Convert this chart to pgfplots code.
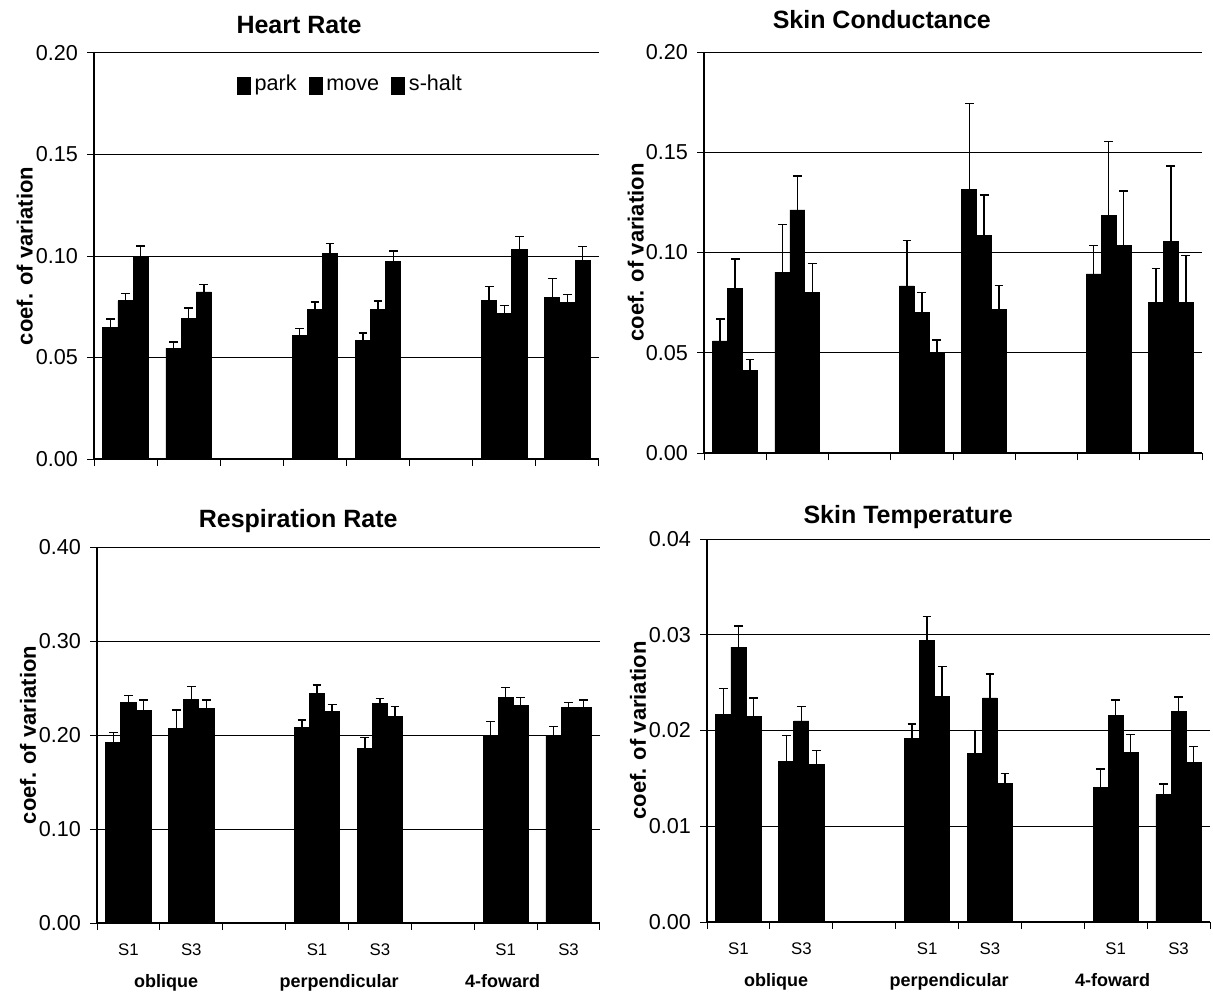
\documentclass[border=0pt]{standalone}
\usepackage{fontspec}
\setmainfont{Liberation Sans}
\usepackage{pgfplots}
\usepackage{pgfplotstable}
\pgfplotsset{compat=1.18}

% x: 1,2 = oblique S1,S3; 4,5 = perpendicular; 7,8 = 4-foward
\pgfplotstableread{
x park pe move me halt he
1 0.0650 0.0040 0.0779 0.0037 0.0992 0.0058
2 0.0546 0.0030 0.0693 0.0050 0.0823 0.0038
4 0.0607 0.0036 0.0738 0.0036 0.1011 0.0051
5 0.0585 0.0035 0.0738 0.0041 0.0975 0.0050
7 0.0782 0.0067 0.0718 0.0039 0.1033 0.0062
8 0.0798 0.0091 0.0770 0.0040 0.0980 0.0066
}\hrdata
\pgfplotstableread{
x park pe move me halt he
1 0.0559 0.0110 0.0822 0.0145 0.0412 0.0053
2 0.0901 0.0239 0.1212 0.0170 0.0800 0.0146
4 0.0833 0.0226 0.0700 0.0102 0.0503 0.0061
5 0.1315 0.0428 0.1087 0.0199 0.0717 0.0118
7 0.0893 0.0141 0.1187 0.0368 0.1037 0.0269
8 0.0750 0.0171 0.1054 0.0377 0.0750 0.0234
}\scdata
\pgfplotstableread{
x park pe move me halt he
1 0.1918 0.0107 0.2347 0.0071 0.2258 0.0114
2 0.2071 0.0194 0.2379 0.0134 0.2287 0.0085
4 0.2081 0.0078 0.2442 0.0089 0.2248 0.0078
5 0.1858 0.0114 0.2336 0.0053 0.2195 0.0106
7 0.1982 0.0160 0.2400 0.0106 0.2319 0.0081
8 0.1989 0.0099 0.2294 0.0053 0.2294 0.0078
}\rrdata
\pgfplotstableread{
x park pe move me halt he
1 0.0217 0.0027 0.0287 0.0022 0.0215 0.0019
2 0.0168 0.0027 0.0210 0.0015 0.0165 0.0014
4 0.0192 0.0015 0.0294 0.0025 0.0236 0.0031
5 0.0176 0.0024 0.0234 0.0025 0.0145 0.0010
7 0.0141 0.0019 0.0216 0.0016 0.0177 0.0019
8 0.0133 0.0011 0.0220 0.0015 0.0167 0.0016
}\stdata

\pgfplotsset{
  panel/.style={
    scale only axis, clip=false,
    xmin=0.5, xmax=8.5, ymin=0,
    axis lines*=left,
    axis line style={-, line width=0.6pt},
    ymajorgrids,
    major grid style={line width=0.5pt, black},
    ybar=0pt, bar width=0.24,
    tick align=outside,
    major tick length=3.5pt,
    tick style={line width=0.5pt, black},
    xtick={0.5,1.5,2.5,3.5,4.5,5.5,6.5,7.5,8.5},
    xticklabels={},
    scaled y ticks=false,
    yticklabel style={font=\fontsize{10.8}{12}\selectfont, xshift=-1pt,
      /pgf/number format/fixed, /pgf/number format/fixed zerofill,
      /pgf/number format/precision=2, /pgf/number format/assume math mode=true},
    ylabel={coef. of variation},
    ylabel style={at={(axis description cs:-0.137,0.5)}, anchor=center,
      font=\bfseries\fontsize{11}{13}\selectfont},
    title style={font=\bfseries\fontsize{12.5}{14}\selectfont, anchor=center},
  },
  bottom/.style={
    extra x ticks={1,2,4,5,7,8},
    extra x tick labels={S1,S3,S1,S3,S1,S3},
    extra x tick style={major tick length=0pt,
      xticklabel style={anchor=center, yshift=-13.5pt, font=\fontsize{8.4}{10}\selectfont}},
  },
  legsq/.style={legend image code/.code={\fill[black] (0pt,-4.5pt) rectangle (6.5pt,4pt);}},
  cvbar/.style={fill=black, draw=black, line width=0.4pt},
  cverr/.style={draw=none, fill=none, forget plot,
    error bars/.cd, y dir=plus, y explicit, error mark=-,
    error bar style={draw=black, line width=0.7pt},
    error mark options={rotate=90, draw=black, line width=0.7pt, mark size=2.2pt}},
}

\newcommand{\groups}{%
  \node[font=\bfseries\fontsize{9}{10}\selectfont, anchor=base] at (axis cs:1.6,0) [yshift=-32pt] {oblique};
  \node[font=\bfseries\fontsize{9}{10}\selectfont, anchor=base] at (axis cs:4.35,0) [yshift=-32pt] {perpendicular};
  \node[font=\bfseries\fontsize{9}{10}\selectfont, anchor=base] at (axis cs:6.95,0) [yshift=-32pt] {4-foward};
}
% bars first, then error bars on top so that caps are not covered
\newcommand{\panelplots}[1]{%
  \addplot[legsq, cvbar, bar shift=-0.24] table[x=x, y=park] {#1};
  \addplot[legsq, cvbar, bar shift=0] table[x=x, y=move] {#1};
  \addplot[legsq, cvbar, bar shift=0.24] table[x=x, y=halt] {#1};
  \addplot[bar shift=-0.24, cverr] table[x=x, y=park, y error=pe] {#1};
  \addplot[bar shift=0, cverr] table[x=x, y=move, y error=me] {#1};
  \addplot[bar shift=0.24, cverr] table[x=x, y=halt, y error=he] {#1};
}

\begin{document}
\begin{tikzpicture}
\useasboundingbox (0,0) rectangle (606.5pt,496.5pt);

% Heart Rate
\begin{axis}[panel, at={(47pt,267pt)}, anchor=south west,
  width=252.5pt, height=203pt, ymax=0.2,
  ytick={0,0.05,0.10,0.15,0.20},
  title={Heart Rate}, title style={at={(0.406,1)}, yshift=8pt},
  legend style={at={(0.27,0.92)}, anchor=west, draw=none, fill=none,
    legend columns=3, font=\fontsize{10.8}{12}\selectfont,
    nodes={text height=0.75em, text depth=0.22em},
    /tikz/every even column/.append style={column sep=4pt}}]
  \panelplots{\hrdata}
  \legend{park, move, s-halt}
\end{axis}

% Skin Conductance
\begin{axis}[panel, at={(352pt,270pt)}, anchor=south west,
  width=249pt, height=200.5pt, ymax=0.2,
  ytick={0,0.05,0.10,0.15,0.20},
  title={Skin Conductance}, title style={at={(0.357,1)}, yshift=10pt}]
  \panelplots{\scdata}
\end{axis}

% Respiration Rate
\begin{axis}[panel, bottom, at={(48.5pt,35pt)}, anchor=south west,
  width=251.5pt, height=188pt, ymax=0.4,
  ytick={0,0.1,0.2,0.3,0.4},
  title={Respiration Rate}, title style={at={(0.40,1)}, yshift=7pt}]
  \panelplots{\rrdata}
  \groups
\end{axis}

% Skin Temperature
\begin{axis}[panel, bottom, at={(353.5pt,35.5pt)}, anchor=south west,
  width=251.5pt, height=191.5pt, ymax=0.04,
  ytick={0,0.01,0.02,0.03,0.04},
  title={Skin Temperature}, title style={at={(0.40,1)}, yshift=5pt}]
  \panelplots{\stdata}
  \groups
\end{axis}
\end{tikzpicture}
\end{document}
